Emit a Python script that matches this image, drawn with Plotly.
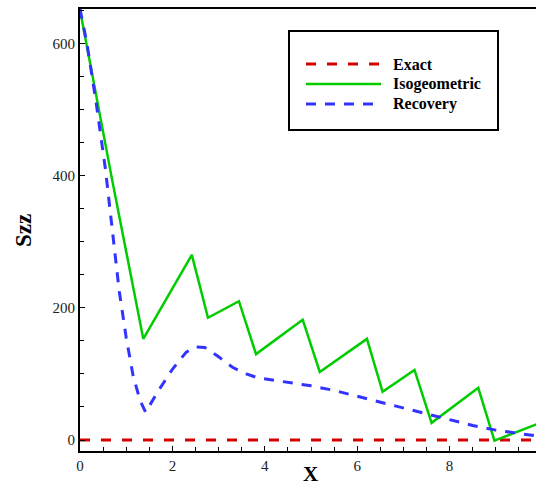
import plotly.graph_objects as go

# ---- data ----
exact_x = [0, 2, 4, 6, 8, 10]
exact_y = [0, 0, 0, 0, 0, 0]

iso_x = [0, 0.7, 1.37, 2.42, 2.77, 3.44, 3.81, 4.82, 5.19, 6.21, 6.55, 7.24, 7.61, 8.62, 8.97, 10.0]
iso_y = [651, 392, 153, 280, 185, 210, 130, 182, 103, 153, 73, 106, 26, 79, -1, 27]

rec_x = [0, 0.15, 0.35, 0.55, 0.72, 0.85, 1.0, 1.15, 1.3, 1.42, 1.7, 2.0, 2.3, 2.5, 2.7,
         3.0, 3.3, 3.6, 3.85, 4.5, 5.0, 5.5, 6.0, 6.5, 7.0, 7.5, 8.0, 8.5, 9.0, 9.5, 10.0]
rec_y = [652, 600, 510, 410, 305, 225, 155, 97, 60, 42, 75, 107, 133, 141, 140,
         126, 110, 100, 94, 87, 82, 75, 66, 57, 48, 40, 31, 22, 15, 10, 5]

series_names = ["Exact", "Isogeometric", "Recovery"]
series_colors = ["#d40000", "#00cc00", "#3333ff"]
series_dash = ["10px,11px", "solid", "10px,9px"]
series_width = [3, 2.5, 3]

W, H = 536, 487
ML, MR, MT, MB = 80, 0, 9, 36
PW, PH = W - ML - MR, H - MT - MB


def px(x):
    return (x - ML) / PW


def py(y):
    return (H - MB - y) / PH


FONT = "Liberation Serif, Times New Roman, serif"

fig = go.Figure()
for xs, ys, i in [(exact_x, exact_y, 0), (iso_x, iso_y, 1), (rec_x, rec_y, 2)]:
    fig.add_trace(go.Scatter(
        x=xs, y=ys, mode="lines", name=series_names[i],
        line=dict(color=series_colors[i], width=series_width[i], dash=series_dash[i]),
        showlegend=False,
    ))

shapes = [
    # legend box
    dict(type="rect", xref="paper", yref="paper",
         x0=px(289), x1=px(498), y0=py(130), y1=py(31),
         line=dict(color="black", width=2), fillcolor="white", layer="above"),
]
annotations = []
legend_rows = [64, 84, 104]
for i, row in enumerate(legend_rows):
    shapes.append(dict(type="line", xref="paper", yref="paper",
                       x0=px(306), x1=px(381), y0=py(row), y1=py(row),
                       line=dict(color=series_colors[i], width=series_width[i], dash=series_dash[i]),
                       layer="above"))
    annotations.append(dict(text="<b>%s</b>" % series_names[i], xref="paper", yref="paper",
                            x=px(391), y=py(row), xanchor="left", yanchor="middle",
                            showarrow=False, font=dict(family=FONT, size=16, color="black")))

annotations.append(dict(text="<b>Szz</b>", xref="paper", yref="paper", x=px(23), y=py(231),
                        xanchor="center", yanchor="middle", textangle=-90, showarrow=False,
                        font=dict(family=FONT, size=23, color="black")))
annotations.append(dict(text="<b>X</b>", xref="paper", yref="paper", x=px(310), y=py(488),
                        xanchor="center", yanchor="bottom", showarrow=False,
                        font=dict(family=FONT, size=21, color="black")))

fig.update_layout(
    width=W, height=H,
    margin=dict(l=ML, r=MR, t=MT, b=MB, pad=0),
    paper_bgcolor="white", plot_bgcolor="white",
    shapes=shapes, annotations=annotations,
    font=dict(family=FONT, size=15, color="#222"),
    xaxis=dict(range=[0, 9.87], tickmode="linear", tick0=0, dtick=2,
               ticks="inside", ticklen=5, tickwidth=1, tickcolor="black",
               minor=dict(dtick=0.5, ticks="inside", ticklen=4, tickcolor="black"),
               showline=True, linewidth=2, linecolor="black", mirror=True,
               showgrid=False, zeroline=False),
    yaxis=dict(range=[-16.6, 652], tickmode="linear", tick0=0, dtick=200,
               ticks="inside", ticklen=5, tickwidth=1, tickcolor="black",
               minor=dict(dtick=50, ticks="inside", ticklen=4, tickcolor="black"),
               showline=True, linewidth=2, linecolor="black",
               showgrid=False, zeroline=False),
)

fig.write_html("out.html")
